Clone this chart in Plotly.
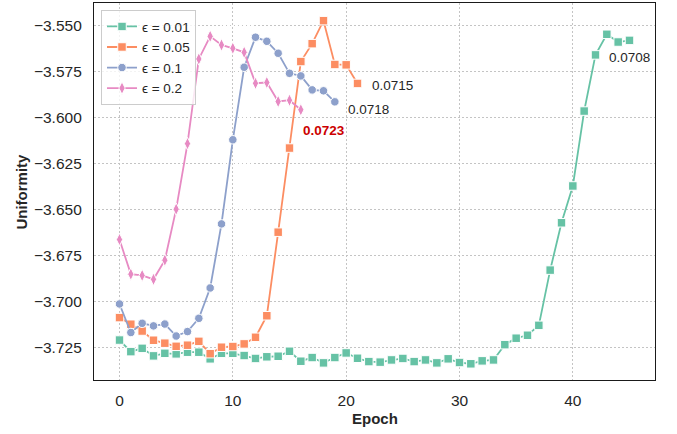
import plotly.graph_objects as go

# ---- data ----
series_names = ["ϵ = 0.01", "ϵ = 0.05", "ϵ = 0.1", "ϵ = 0.2"]
eps001 = [-3.7208, -3.7271, -3.7253, -3.7294, -3.7280, -3.7283, -3.7274, -3.7274, -3.7310, -3.7280,
          -3.7280, -3.7292, -3.7308, -3.7299, -3.7296, -3.7269, -3.7323, -3.7303, -3.7332, -3.7303,
          -3.7278, -3.7307, -3.7325, -3.7328, -3.7316, -3.7308, -3.7325, -3.7316, -3.7332, -3.7310,
          -3.7330, -3.7337, -3.7321, -3.7316, -3.7233, -3.7198, -3.7182, -3.7128, -3.6828, -3.6571,
          -3.6371, -3.5964, -3.5659, -3.5547, -3.5589, -3.5580]
eps005 = [-3.7086, -3.7122, -3.7159, -3.7209, -3.7225, -3.7242, -3.7236, -3.7215, -3.7282, -3.7247,
          -3.7243, -3.7229, -3.7193, -3.7076, -3.6622, -3.6165, -3.5695, -3.5598, -3.5473, -3.5711,
          -3.5713, -3.5814]
eps01 = [-3.7012, -3.7167, -3.7117, -3.7131, -3.7121, -3.7186, -3.7162, -3.7090, -3.6925, -3.6577,
         -3.6120, -3.5726, -3.5563, -3.5585, -3.5650, -3.5759, -3.5773, -3.5849, -3.5854, -3.5914]
eps02 = [-3.6662, -3.6850, -3.6857, -3.6878, -3.6774, -3.6497, -3.6141, -3.5681, -3.5558, -3.5605,
         -3.5623, -3.5645, -3.5813, -3.5809, -3.5912, -3.5905, -3.5957]
end_labels = ["0.0708", "0.0715", "0.0718", "0.0723"]

y_tickvals = [-3.725, -3.700, -3.675, -3.650, -3.625, -3.600, -3.575, -3.550]
y_ticktext = ["−3.725", "−3.700", "−3.675", "−3.650", "−3.625", "−3.600", "−3.575", "−3.550"]
x_tickvals = [0, 10, 20, 30, 40]

# ---- styles ----
colors = ["#66c2a5", "#fc8d62", "#8da0cb", "#e78ac3"]
symbols = ["square", "square", "circle", "diamond-tall"]
sizes = [8.5, 8.5, 8.5, 9]
label_colors = ["#262626", "#262626", "#262626", "#cc0000"]
label_bold = [False, False, False, True]
label_shift = [(-23, -17), (12, -2), (11, -8), (0, -21)]

FONT = "Liberation Sans, Arial, sans-serif"
fig = go.Figure()
all_series = [eps001, eps005, eps01, eps02]
for name, ys, c, sym, sz in zip(series_names, all_series, colors, symbols, sizes):
    fig.add_trace(go.Scatter(
        x=list(range(len(ys))), y=ys, name=name, mode="lines+markers",
        line=dict(color=c, width=1.8),
        marker=dict(symbol=sym, size=sz, color=c, line=dict(color="white", width=1)),
    ))

for ys, lab, lc, bold, (dx, dy) in zip(all_series, end_labels, label_colors, label_bold, label_shift):
    txt = f"<b>{lab}</b>" if bold else lab
    fig.add_annotation(x=len(ys) - 1, y=ys[-1], text=txt, showarrow=False,
                       xanchor="left", yanchor="middle", xshift=dx, yshift=dy,
                       font=dict(family=FONT, size=13.5, color=lc))

# axis titles
fig.add_annotation(xref="paper", yref="paper", x=0.5, y=-0.1034, text="<b>Epoch</b>",
                   showarrow=False, xanchor="center", yanchor="middle",
                   font=dict(family=FONT, size=15, color="#262626"))
fig.add_annotation(xref="paper", yref="paper", x=-0.130, y=0.5, text="<b>Uniformity</b>",
                   showarrow=False, xanchor="center", yanchor="middle", textangle=-90,
                   font=dict(family=FONT, size=15, color="#262626"))

axis_common = dict(
    showline=True, mirror=True, linecolor="#1a1a1a", linewidth=1.3,
    showgrid=True, gridcolor="#c4c4c4", griddash="1.5px,2.5px", gridwidth=1,
    zeroline=False, ticks="", automargin=False,
    tickfont=dict(family=FONT, size=15.5, color="#262626"),
)
fig.update_xaxes(range=[-2.25, 47.25], tickvals=x_tickvals, ticklabelstandoff=6, **axis_common)
fig.update_yaxes(range=[-3.7425, -3.5377], tickvals=y_tickvals, ticktext=y_ticktext,
                 ticklabelstandoff=8, **axis_common)

fig.update_layout(
    width=677, height=434,
    margin=dict(l=94, r=22, t=3, b=54, autoexpand=False),
    plot_bgcolor="white", paper_bgcolor="white",
    font=dict(family=FONT, color="#262626"),
    showlegend=True,
    legend=dict(x=0.0125, y=0.981, xanchor="left", yanchor="top",
                bgcolor="rgba(255,255,255,0.8)", bordercolor="#cccccc", borderwidth=1,
                font=dict(family=FONT, size=13.5, color="#262626"),
                itemwidth=30, tracegroupgap=0),
)

fig.write_html("out.html", config={"displayModeBar": False},
               post_script="document.body.style.margin='0';document.body.style.overflow='hidden';")
